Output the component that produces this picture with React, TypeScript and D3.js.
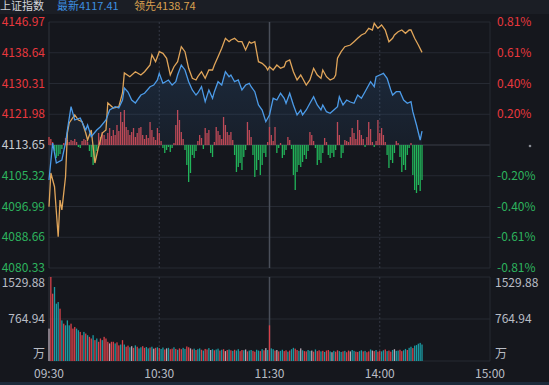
import React from 'react';
import * as d3 from 'd3';

const W = 549, H = 385;
const prevClose = 4113.65;
const leftTicks = [4146.97, 4138.64, 4130.31, 4121.98, 4113.65, 4105.32, 4096.99, 4088.66, 4080.33];
const pctTicks = ['0.81%', '0.61%', '0.40%', '0.20%', '', '-0.20%', '-0.40%', '-0.61%', '-0.81%'];
const timeTicks = [0, 60, 120, 180, 240];
const timeLabels = ['09:30', '10:30', '11:30', '14:00', '15:00'];
const volTicks = [1529.88, 764.94];

// index line (minutes after 09:30, afternoon continues from 120)
const priceMin = [0, 2, 4, 7, 9, 10, 12, 14, 17, 20, 21, 23, 26, 28, 31, 33, 36, 38, 40, 41, 43, 45, 47, 50, 52, 55, 57, 59, 60, 62, 65, 67, 69, 70, 72, 74, 76, 78, 80, 81, 83, 85, 87, 89, 90, 92, 94, 96, 98, 99, 101, 103, 105, 107, 109, 110, 112, 114, 116, 118, 119,
  120, 122, 124, 126, 128, 129, 131, 133, 135, 137, 138, 140, 142, 144, 146, 148, 149, 151, 153, 155, 157, 158, 160, 162, 164, 166, 168, 170, 172, 175, 177, 178, 180, 182, 184, 186, 187, 189, 191, 193, 195, 197, 198, 200, 202, 203];
const priceVal = [4104.17, 4114.19, 4108.77, 4109.59, 4114.19, 4117.71, 4124.03, 4120.42, 4120.97, 4117.71, 4119.07, 4115.90, 4117.71, 4118.61, 4120.42, 4123.13, 4124.03, 4123.67, 4125.84, 4129.09, 4128.01, 4125.84, 4125.03, 4127.19, 4127.66, 4129.44, 4129.90, 4131.26, 4133.07, 4130.36, 4131.26, 4129.90, 4130.80, 4132.61, 4135.32, 4133.97, 4130.80, 4128.55, 4127.19, 4127.74, 4129.44, 4125.38, 4128.55, 4126.30, 4128.09, 4130.80, 4129.90, 4133.51, 4132.15, 4132.61, 4130.80, 4131.26, 4128.55, 4129.90, 4130.36, 4129.44, 4128.09, 4124.49, 4123.13, 4119.96, 4120.88,
  4121.78, 4126.30, 4125.84, 4127.66, 4126.30, 4124.95, 4127.66, 4124.49, 4121.78, 4123.13, 4121.78, 4123.13, 4124.95, 4126.73, 4124.49, 4123.13, 4124.49, 4122.67, 4122.24, 4123.13, 4124.03, 4126.73, 4124.49, 4125.84, 4125.30, 4124.95, 4127.19, 4126.30, 4128.09, 4130.80, 4129.44, 4132.15, 4132.61, 4133.07, 4131.72, 4128.55, 4127.19, 4128.09, 4128.09, 4125.84, 4124.95, 4125.38, 4122.67, 4119.07, 4115.00, 4117.41];

// leading line
const leadMin = [0, 1, 3, 5, 6, 7, 9, 10, 11, 14, 16, 18, 20, 21, 23, 24, 25, 27, 29, 31, 32, 35, 38, 40, 41, 44, 47, 50, 52, 55, 56, 58, 60, 62, 64, 66, 68, 70, 72, 74, 76, 78, 80, 81, 83, 85, 87, 89, 90, 92, 94, 96, 98, 99, 101, 103, 105, 107, 109, 110, 112, 114, 116, 118, 119,
  120, 122, 124, 126, 128, 129, 131, 133, 135, 137, 138, 140, 142, 144, 146, 148, 149, 151, 153, 155, 156, 157, 159, 161, 164, 166, 168, 170, 172, 174, 176, 177, 179, 181, 183, 185, 187, 188, 190, 192, 194, 196, 197, 199, 201, 203];
const leadVal = [4096.94, 4106.07, 4102.35, 4088.81, 4098.75, 4096.04, 4105.06, 4116.90, 4119.61, 4121.78, 4120.42, 4119.96, 4116.90, 4115.00, 4117.71, 4113.19, 4108.77, 4113.19, 4116.90, 4117.71, 4125.03, 4123.67, 4124.03, 4127.74, 4133.15, 4132.15, 4133.51, 4132.61, 4133.51, 4135.32, 4138.03, 4136.22, 4138.92, 4138.49, 4137.14, 4132.61, 4134.86, 4136.22, 4140.28, 4138.92, 4134.43, 4131.72, 4131.26, 4132.15, 4133.51, 4131.72, 4133.97, 4133.97, 4135.32, 4137.57, 4139.85, 4142.55, 4141.63, 4142.09, 4142.55, 4141.63, 4141.63, 4139.39, 4141.63, 4141.20, 4141.63, 4136.22, 4135.78, 4134.86, 4133.97,
  4134.86, 4133.97, 4135.32, 4134.43, 4134.86, 4136.22, 4136.68, 4133.51, 4131.26, 4132.61, 4131.72, 4129.90, 4131.26, 4134.43, 4132.61, 4131.72, 4133.97, 4132.15, 4131.26, 4131.72, 4132.61, 4137.14, 4138.92, 4140.28, 4140.74, 4141.63, 4142.55, 4143.45, 4143.91, 4145.26, 4144.80, 4146.62, 4145.26, 4146.16, 4144.80, 4141.63, 4142.55, 4143.45, 4144.34, 4144.80, 4143.91, 4144.80, 4144.80, 4142.55, 4140.74, 4138.74];

// buy/sell strength bars, one per minute
const strength = [8, 6, 3, -6, -13, -11, -9, -4, 2, 7, 5, 3, 5, 4, 6, 3, -2, -3, 4, 6, 5, 3, -6, -12, -20, -15, -6, 12, 8, 13,
  10, 6, 12, 17, 9, 15, 10, 20, 14, 33, 23, 35, 18, 15, 10, 13, 17, 8, 12, 17, 18, 10, 6, 10, 7, 23, 15, 8, 5, 17,
  12, 4, -3, -8, -5, -2, -7, -3, 2, 20, 35, 25, 13, 6, -5, -20, -37, -28, -10, -13, -6, 4, 10, 7, -4, 17, 12, 15, -8, -12,
  3, 18, 14, 10, 6, 28, 20, 13, 10, 13, 5, -10, -27, -22, -18, -25, -12, -5, 23, 15, 8, -10, -32, -25, -15, -30, -20, -8, -12, 3,
  18, 10, 4, 18, -8, -3, 2, -13, -10, -5, 8, 5, -4, -30, -45, -27, -20, -22, -17, -10, -14, -6, 13, 10, 4, -3, -20, -15, -18, -8,
  7, 3, -10, -13, -8, -12, -5, 23, 10, -13, -8, 5, 4, 3, 8, 17, 12, 6, 25, 15, 10, 6, -2, 8, 23, 16, 3, -2, 4, 25,
  12, 17, 10, 3, -10, -23, -15, -18, -8, 4, 2, -12, -27, -20, -25, -10, -3, 2, -30, -45, -48, -40, -46, -35];

// volume (万), one per minute
const volume = [590, 1530, 1226, 1348, 1044, 1074, 953, 740, 680, 650,
  740, 650, 680, 590, 620, 590, 560, 530, 470, 530,
  500, 470, 440, 410, 470, 380, 410, 350, 410, 380,
  440, 410, 350, 320, 350, 350, 320, 340, 285, 300,
  380, 300, 260, 280, 250, 270, 240, 285, 260, 230,
  250, 270, 240, 255, 230, 245, 260, 225, 240, 250,
  235, 220, 245, 210, 230, 240, 215, 225, 250, 220,
  205, 230, 215, 240, 220, 265, 250, 230, 210, 225,
  200, 215, 230, 205, 190, 220, 210, 235, 200, 215,
  195, 210, 225, 190, 205, 215, 180, 200, 210, 195,
  185, 205, 190, 215, 180, 200, 195, 210, 175, 190,
  200, 185, 170, 205, 190, 180, 215, 195, 235, 200,
  650, 230, 215, 190, 200, 175, 185, 205, 180, 195,
  170, 190, 215, 240, 225, 200, 185, 230, 195, 180,
  175, 200, 185, 190, 170, 210, 180, 195, 175, 185,
  165, 190, 200, 175, 160, 185, 170, 195, 180, 165,
  175, 185, 160, 190, 175, 200, 185, 170, 165, 180,
  195, 175, 185, 160, 175, 210, 190, 180, 200, 170,
  185, 175, 195, 210, 180, 190, 170, 200, 215, 185,
  190, 205, 180, 195, 220, 200, 240, 260, 235, 280,
  290, 315, 330, 300];
// minute direction: u = up, d = down, n = flat
const volDir = ['nuudddudud', 'dduuudduud', 'uduududuud', 'uuunuuduud', 'uduudnudud', 'duuddudnud', 'uddunduudu',
  'duudduunud', 'udduduudnd', 'uddudunudu', 'dudduudnud', 'duuddudund', 'uddunudduu', 'dudduudndu', 'uddnuduudu',
  'duudnduudd', 'uduundduud', 'duduudnudu', 'udduduudnd', 'duudduddud', 'dddd'].join('');

const FONT = '"Noto Sans CJK SC", "Noto Sans", sans-serif';

export default function App() {
  const x = d3.scaleLinear().domain([0, 240]).range([49, 490]);
  const y = d3.scaleLinear().domain([leftTicks[8], leftTicks[0]]).range([268, 22]);
  const yVol = d3.scaleLinear().domain([0, volTicks[0]]).range([361, 277]);
  const y0 = y(prevClose);
  const yBar = d3.scaleLinear().domain([-50, 50]).range([y0 + 50, y0 - 50]);

  const priceData: [number, number][] = priceMin.map((m, i) => [m, priceVal[i]]);
  const leadData: [number, number][] = leadMin.map((m, i) => [m, leadVal[i]]);
  const line = d3.line<[number, number]>().x(d => x(d[0])).y(d => y(d[1]));
  const area = d3.area<[number, number]>().x(d => x(d[0])).y0(y0).y1(d => y(d[1]));

  const labelColor = (i: number) => (i < 4 ? '#e8383d' : i === 4 ? '#c9ccd2' : '#2db35d');
  const volColor: Record<string, string> = { u: '#d8414a', d: '#1b9aa2', n: '#b9a8b4' };
  const grid = '#262a33';

  return (
    <svg width={W} height={H} style={{ position: 'absolute', left: 0, top: 0, background: '#15171d' }} fontFamily={FONT}>
      <defs>
        <linearGradient id="fillBlue" x1="0" y1="0" x2="0" y2="1">
          <stop offset="0%" stopColor="#3d86d6" stopOpacity={0.16} />
          <stop offset="100%" stopColor="#3d86d6" stopOpacity={0.03} />
        </linearGradient>
      </defs>
      <rect x={0} y={0} width={W} height={14} fill="#1b1e25" />
      <text x={0} y={10} fontSize={11} fill="#d4d6da">上证指数</text>
      <text x={57} y={10} fontSize={11} fill="#3d8fe0">最新4117.41</text>
      <text x={134} y={10} fontSize={11} fill="#d9a050">领先4138.74</text>

      {/* main panel grid */}
      {leftTicks.map((t, i) => (
        <line key={'g' + i} x1={x(0)} x2={x(240)} y1={y(t)} y2={y(t)} stroke={i === 4 ? '#3a3e48' : grid} strokeWidth={1} />
      ))}
      <line x1={x(0)} x2={x(0)} y1={y(leftTicks[0])} y2={y(leftTicks[8])} stroke="#30343d" />
      <line x1={x(240)} x2={x(240)} y1={y(leftTicks[0])} y2={y(leftTicks[8])} stroke={grid} />
      {[60, 180].map(t => (
        <line key={'v' + t} x1={x(t)} x2={x(t)} y1={y(leftTicks[0])} y2={y(leftTicks[8])} stroke="#353944" strokeDasharray="2,2" />
      ))}
      <line x1={x(120)} x2={x(120)} y1={y(leftTicks[0])} y2={y(leftTicks[8])} stroke="#4a4f5a" strokeWidth={1.5} />

      {/* left / right labels */}
      {leftTicks.map((t, i) => (
        <text key={'l' + i} x={45} y={y(t) + 4} fontSize={12} textAnchor="end" fill={labelColor(i)}>{t.toFixed(2)}</text>
      ))}
      {pctTicks.map((p, i) => p ? (
        <text key={'r' + i} x={497} y={y(leftTicks[i]) + 4} fontSize={12} fill={labelColor(i)}>{p}</text>
      ) : (
        <circle key={'r' + i} cx={530} cy={y(leftTicks[i]) + 1} r={1.3} fill="#8a8d95" />
      ))}

      {/* strength bars */}
      {strength.map((v, i) => (
        <rect key={'s' + i} x={x(i) - 0.65} width={1.3} y={v >= 0 ? yBar(v) : y0} height={Math.abs(yBar(v) - y0)}
          fill={v >= 0 ? '#c9444c' : '#22b45a'} />
      ))}

      {/* lines */}
      <path d={area(priceData) || ''} fill="url(#fillBlue)" />
      <path d={line(leadData) || ''} fill="none" stroke="#e0a55a" strokeWidth={1.3} />
      <path d={line(priceData) || ''} fill="none" stroke="#4c9be8" strokeWidth={1.3} />

      {/* volume panel */}
      {[yVol(volTicks[0]), yVol(volTicks[1]), yVol(0)].map((yy, i) => (
        <line key={'vg' + i} x1={x(0)} x2={x(240)} y1={yy} y2={yy} stroke={grid} />
      ))}
      <line x1={x(0)} x2={x(0)} y1={yVol(volTicks[0])} y2={yVol(0)} stroke="#30343d" />
      <line x1={x(240)} x2={x(240)} y1={yVol(volTicks[0])} y2={yVol(0)} stroke={grid} />
      {[60, 180].map(t => (
        <line key={'vv' + t} x1={x(t)} x2={x(t)} y1={yVol(volTicks[0])} y2={yVol(0)} stroke="#353944" strokeDasharray="2,2" />
      ))}
      <line x1={x(120)} x2={x(120)} y1={yVol(volTicks[0])} y2={yVol(0)} stroke="#4a4f5a" strokeWidth={1.5} />
      {volume.map((v, i) => (
        <rect key={'vb' + i} x={x(i) - 0.65} width={1.3} y={yVol(v)} height={yVol(0) - yVol(v)}
          fill={volColor[volDir[i]]} />
      ))}
      {volTicks.map((t, i) => (
        <g key={'vt' + i}>
          <text x={45} y={yVol(t) + (i === 0 ? 10 : 4)} fontSize={12} textAnchor="end" fill="#b9bdc5">{t.toFixed(2)}</text>
          <text x={495} y={yVol(t) + (i === 0 ? 10 : 4)} fontSize={12} fill="#b9bdc5">{t.toFixed(2)}</text>
        </g>
      ))}
      <text x={45} y={yVol(0) - 3} fontSize={12} textAnchor="end" fill="#b9bdc5">万</text>
      <text x={495} y={yVol(0) - 3} fontSize={12} fill="#b9bdc5">万</text>

      {timeTicks.map((t, i) => (
        <text key={'t' + i} x={x(t)} y={378} fontSize={12} textAnchor="middle" fill="#b9bdc5">{timeLabels[i]}</text>
      ))}
      <rect x={0} y={382} width={W} height={3} fill="#1c2a3a" />
    </svg>
  );
}
